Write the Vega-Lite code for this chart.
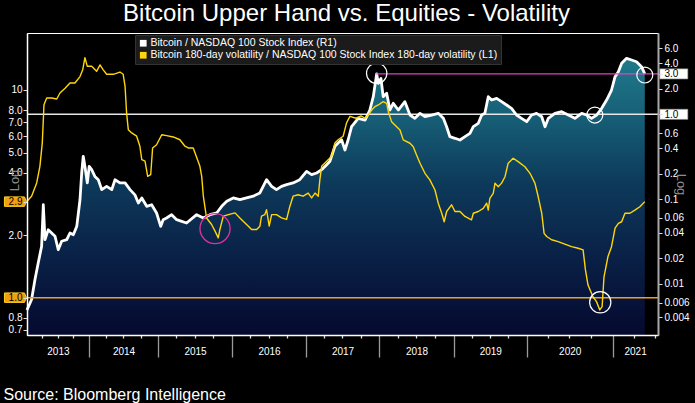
{
  "$schema": "https://vega.github.io/schema/vega-lite/v6.json",
  "width": 631,
  "height": 302,
  "autosize": {"type": "none"},
  "padding": {"left": 27, "top": 33, "right": 37, "bottom": 68},
  "background": "black",
  "title": {
    "text": "Bitcoin Upper Hand vs. Equities - Volatility",
    "color": "white",
    "font": "Liberation Sans",
    "fontSize": 24,
    "fontWeight": "normal",
    "anchor": "middle",
    "frame": "group",
    "baseline": "alphabetic",
    "offset": 10,
    "dx": 4,
    "dy": 22
  },
  "config": {
    "font": "Liberation Sans",
    "view": {"stroke": "white", "strokeWidth": 1},
    "axis": {
      "grid": false,
      "labelFont": "Liberation Sans",
      "labelFontSize": 10,
      "labelColor": "white",
      "titleFont": "Liberation Sans",
      "titleFontWeight": "normal"
    }
  },
  "datasets": {
    "btc": [
      {"date": "2013-01-01", "ratio": 0.0049},
      {"date": "2013-01-28", "ratio": 0.0065},
      {"date": "2013-02-17", "ratio": 0.0112},
      {"date": "2013-03-08", "ratio": 0.0176},
      {"date": "2013-03-28", "ratio": 0.0276},
      {"date": "2013-04-07", "ratio": 0.0856},
      {"date": "2013-04-17", "ratio": 0.0331},
      {"date": "2013-05-06", "ratio": 0.0434},
      {"date": "2013-05-26", "ratio": 0.0397},
      {"date": "2013-06-15", "ratio": 0.0363},
      {"date": "2013-07-04", "ratio": 0.0252},
      {"date": "2013-07-24", "ratio": 0.0317},
      {"date": "2013-08-23", "ratio": 0.0331},
      {"date": "2013-09-11", "ratio": 0.0397},
      {"date": "2013-10-01", "ratio": 0.0379},
      {"date": "2013-10-21", "ratio": 0.0476},
      {"date": "2013-11-09", "ratio": 0.0981},
      {"date": "2013-11-19", "ratio": 0.203},
      {"date": "2013-11-28", "ratio": 0.319},
      {"date": "2013-12-08", "ratio": 0.243},
      {"date": "2013-12-22", "ratio": 0.155},
      {"date": "2014-01-02", "ratio": 0.243},
      {"date": "2014-01-15", "ratio": 0.222},
      {"date": "2014-02-01", "ratio": 0.185},
      {"date": "2014-02-19", "ratio": 0.169},
      {"date": "2014-03-09", "ratio": 0.129},
      {"date": "2014-04-04", "ratio": 0.141},
      {"date": "2014-05-01", "ratio": 0.129},
      {"date": "2014-05-18", "ratio": 0.169},
      {"date": "2014-06-13", "ratio": 0.155},
      {"date": "2014-07-10", "ratio": 0.155},
      {"date": "2014-08-05", "ratio": 0.129},
      {"date": "2014-08-31", "ratio": 0.112},
      {"date": "2014-09-18", "ratio": 0.0897},
      {"date": "2014-10-06", "ratio": 0.103},
      {"date": "2014-11-01", "ratio": 0.082},
      {"date": "2014-11-27", "ratio": 0.0856},
      {"date": "2014-12-23", "ratio": 0.0684},
      {"date": "2015-01-13", "ratio": 0.0476},
      {"date": "2015-01-25", "ratio": 0.057},
      {"date": "2015-02-11", "ratio": 0.0597},
      {"date": "2015-03-08", "ratio": 0.0653},
      {"date": "2015-04-02", "ratio": 0.057},
      {"date": "2015-04-27", "ratio": 0.0545},
      {"date": "2015-05-21", "ratio": 0.0521},
      {"date": "2015-07-10", "ratio": 0.0653},
      {"date": "2015-08-12", "ratio": 0.0597},
      {"date": "2015-09-14", "ratio": 0.0653},
      {"date": "2015-10-17", "ratio": 0.0684},
      {"date": "2015-11-11", "ratio": 0.082},
      {"date": "2015-12-06", "ratio": 0.0939},
      {"date": "2016-01-07", "ratio": 0.103},
      {"date": "2016-02-09", "ratio": 0.0981},
      {"date": "2016-03-13", "ratio": 0.103},
      {"date": "2016-04-15", "ratio": 0.108},
      {"date": "2016-05-18", "ratio": 0.118},
      {"date": "2016-06-20", "ratio": 0.169},
      {"date": "2016-07-15", "ratio": 0.141},
      {"date": "2016-08-08", "ratio": 0.129},
      {"date": "2016-09-02", "ratio": 0.141},
      {"date": "2016-09-27", "ratio": 0.148},
      {"date": "2016-10-29", "ratio": 0.155},
      {"date": "2016-12-01", "ratio": 0.169},
      {"date": "2017-01-04", "ratio": 0.212},
      {"date": "2017-01-29", "ratio": 0.194},
      {"date": "2017-02-23", "ratio": 0.203},
      {"date": "2017-03-20", "ratio": 0.222},
      {"date": "2017-04-14", "ratio": 0.254},
      {"date": "2017-04-30", "ratio": 0.279},
      {"date": "2017-05-25", "ratio": 0.419},
      {"date": "2017-06-10", "ratio": 0.458},
      {"date": "2017-06-27", "ratio": 0.501},
      {"date": "2017-07-14", "ratio": 0.379},
      {"date": "2017-07-30", "ratio": 0.501},
      {"date": "2017-08-16", "ratio": 0.714},
      {"date": "2017-09-18", "ratio": 0.897},
      {"date": "2017-10-22", "ratio": 0.856},
      {"date": "2017-11-15", "ratio": 1.124},
      {"date": "2017-12-02", "ratio": 1.614},
      {"date": "2017-12-19", "ratio": 3.0},
      {"date": "2017-12-27", "ratio": 2.323},
      {"date": "2018-01-09", "ratio": 2.65},
      {"date": "2018-01-20", "ratio": 1.614},
      {"date": "2018-02-06", "ratio": 1.77},
      {"date": "2018-02-22", "ratio": 1.124},
      {"date": "2018-03-10", "ratio": 1.349},
      {"date": "2018-04-04", "ratio": 1.124},
      {"date": "2018-05-06", "ratio": 1.409},
      {"date": "2018-05-31", "ratio": 0.981},
      {"date": "2018-06-24", "ratio": 0.897},
      {"date": "2018-07-19", "ratio": 1.027},
      {"date": "2018-08-12", "ratio": 0.937},
      {"date": "2018-09-14", "ratio": 0.981},
      {"date": "2018-10-16", "ratio": 1.027},
      {"date": "2018-11-10", "ratio": 0.897},
      {"date": "2018-11-26", "ratio": 0.714},
      {"date": "2018-12-12", "ratio": 0.544},
      {"date": "2019-01-06", "ratio": 0.521},
      {"date": "2019-01-31", "ratio": 0.497},
      {"date": "2019-02-25", "ratio": 0.544},
      {"date": "2019-03-22", "ratio": 0.597},
      {"date": "2019-04-08", "ratio": 0.714},
      {"date": "2019-05-03", "ratio": 0.783},
      {"date": "2019-05-20", "ratio": 0.981},
      {"date": "2019-06-05", "ratio": 1.027},
      {"date": "2019-06-22", "ratio": 1.614},
      {"date": "2019-07-09", "ratio": 1.475},
      {"date": "2019-08-03", "ratio": 1.545},
      {"date": "2019-08-28", "ratio": 1.409},
      {"date": "2019-09-22", "ratio": 1.288},
      {"date": "2019-10-17", "ratio": 1.177},
      {"date": "2019-11-11", "ratio": 0.981},
      {"date": "2019-12-06", "ratio": 0.897},
      {"date": "2020-01-01", "ratio": 0.818},
      {"date": "2020-01-22", "ratio": 0.981},
      {"date": "2020-02-12", "ratio": 1.027},
      {"date": "2020-03-05", "ratio": 0.937},
      {"date": "2020-03-19", "ratio": 0.714},
      {"date": "2020-04-02", "ratio": 0.897},
      {"date": "2020-04-30", "ratio": 1.027},
      {"date": "2020-05-29", "ratio": 1.073},
      {"date": "2020-06-26", "ratio": 0.981},
      {"date": "2020-07-24", "ratio": 0.897},
      {"date": "2020-08-22", "ratio": 1.027},
      {"date": "2020-09-12", "ratio": 0.981},
      {"date": "2020-10-03", "ratio": 0.897},
      {"date": "2020-10-25", "ratio": 0.981},
      {"date": "2020-11-15", "ratio": 1.177},
      {"date": "2020-12-06", "ratio": 1.475},
      {"date": "2020-12-27", "ratio": 1.936},
      {"date": "2021-01-11", "ratio": 2.779},
      {"date": "2021-01-25", "ratio": 3.184},
      {"date": "2021-02-08", "ratio": 4.0},
      {"date": "2021-03-01", "ratio": 4.583},
      {"date": "2021-03-22", "ratio": 4.377},
      {"date": "2021-04-12", "ratio": 4.178},
      {"date": "2021-05-03", "ratio": 3.648},
      {"date": "2021-05-17", "ratio": 3.0}
    ],
    "vol": [
      {"date": "2013-01-01", "ratio": 2.91},
      {"date": "2013-01-28", "ratio": 3.08},
      {"date": "2013-02-27", "ratio": 3.57},
      {"date": "2013-03-18", "ratio": 4.29},
      {"date": "2013-04-01", "ratio": 5.56},
      {"date": "2013-04-11", "ratio": 8.5},
      {"date": "2013-04-27", "ratio": 9.15},
      {"date": "2013-05-26", "ratio": 9.15},
      {"date": "2013-06-25", "ratio": 9.05},
      {"date": "2013-07-14", "ratio": 9.67},
      {"date": "2013-08-13", "ratio": 10.2},
      {"date": "2013-09-11", "ratio": 10.8},
      {"date": "2013-10-10", "ratio": 10.8},
      {"date": "2013-11-09", "ratio": 11.6},
      {"date": "2013-11-25", "ratio": 12.5},
      {"date": "2013-12-08", "ratio": 14.3},
      {"date": "2013-12-22", "ratio": 13.0},
      {"date": "2014-01-15", "ratio": 13.0},
      {"date": "2014-02-10", "ratio": 12.3},
      {"date": "2014-02-28", "ratio": 13.2},
      {"date": "2014-03-17", "ratio": 12.5},
      {"date": "2014-04-04", "ratio": 11.9},
      {"date": "2014-05-09", "ratio": 11.9},
      {"date": "2014-06-13", "ratio": 12.2},
      {"date": "2014-06-30", "ratio": 11.9},
      {"date": "2014-07-10", "ratio": 10.4},
      {"date": "2014-07-18", "ratio": 7.75},
      {"date": "2014-07-27", "ratio": 6.44},
      {"date": "2014-08-14", "ratio": 6.21},
      {"date": "2014-09-09", "ratio": 5.99},
      {"date": "2014-09-26", "ratio": 5.36},
      {"date": "2014-10-06", "ratio": 4.62},
      {"date": "2014-10-23", "ratio": 4.54},
      {"date": "2014-11-06", "ratio": 3.84},
      {"date": "2014-11-22", "ratio": 3.91},
      {"date": "2014-12-02", "ratio": 5.26},
      {"date": "2014-12-23", "ratio": 5.45},
      {"date": "2015-01-18", "ratio": 6.09},
      {"date": "2015-02-11", "ratio": 6.03},
      {"date": "2015-03-16", "ratio": 5.94},
      {"date": "2015-04-18", "ratio": 5.76},
      {"date": "2015-05-13", "ratio": 5.36},
      {"date": "2015-05-29", "ratio": 5.26},
      {"date": "2015-06-23", "ratio": 5.26},
      {"date": "2015-07-02", "ratio": 4.97},
      {"date": "2015-07-26", "ratio": 4.29},
      {"date": "2015-08-04", "ratio": 3.84},
      {"date": "2015-08-12", "ratio": 3.08},
      {"date": "2015-08-28", "ratio": 2.42},
      {"date": "2015-09-22", "ratio": 2.25},
      {"date": "2015-10-09", "ratio": 2.09},
      {"date": "2015-10-25", "ratio": 1.94},
      {"date": "2015-11-02", "ratio": 2.13},
      {"date": "2015-11-19", "ratio": 2.47},
      {"date": "2015-12-14", "ratio": 2.51},
      {"date": "2016-01-16", "ratio": 2.56},
      {"date": "2016-02-09", "ratio": 2.42},
      {"date": "2016-03-13", "ratio": 2.25},
      {"date": "2016-04-07", "ratio": 2.13},
      {"date": "2016-05-02", "ratio": 2.13},
      {"date": "2016-05-18", "ratio": 2.21},
      {"date": "2016-05-26", "ratio": 2.47},
      {"date": "2016-06-11", "ratio": 2.51},
      {"date": "2016-06-20", "ratio": 2.65},
      {"date": "2016-07-03", "ratio": 2.21},
      {"date": "2016-07-15", "ratio": 2.51},
      {"date": "2016-08-08", "ratio": 2.51},
      {"date": "2016-09-02", "ratio": 2.42},
      {"date": "2016-09-27", "ratio": 2.38},
      {"date": "2016-10-13", "ratio": 2.75},
      {"date": "2016-10-29", "ratio": 3.08},
      {"date": "2016-11-23", "ratio": 3.13},
      {"date": "2016-12-18", "ratio": 3.08},
      {"date": "2017-01-12", "ratio": 3.19},
      {"date": "2017-01-29", "ratio": 3.02},
      {"date": "2017-02-15", "ratio": 3.19},
      {"date": "2017-03-03", "ratio": 3.08},
      {"date": "2017-03-11", "ratio": 3.7},
      {"date": "2017-03-20", "ratio": 4.29},
      {"date": "2017-04-14", "ratio": 4.54},
      {"date": "2017-05-09", "ratio": 4.8},
      {"date": "2017-05-25", "ratio": 5.56},
      {"date": "2017-06-10", "ratio": 5.76},
      {"date": "2017-07-05", "ratio": 5.99},
      {"date": "2017-07-22", "ratio": 6.94},
      {"date": "2017-08-08", "ratio": 7.47},
      {"date": "2017-09-07", "ratio": 7.31},
      {"date": "2017-10-02", "ratio": 7.5},
      {"date": "2017-10-22", "ratio": 7.31},
      {"date": "2017-11-07", "ratio": 7.58},
      {"date": "2017-11-24", "ratio": 8.01},
      {"date": "2017-12-10", "ratio": 8.31},
      {"date": "2017-12-27", "ratio": 8.47},
      {"date": "2018-01-20", "ratio": 8.79},
      {"date": "2018-02-06", "ratio": 8.63},
      {"date": "2018-02-14", "ratio": 7.86},
      {"date": "2018-03-02", "ratio": 7.04},
      {"date": "2018-03-18", "ratio": 6.79},
      {"date": "2018-04-12", "ratio": 6.42},
      {"date": "2018-04-28", "ratio": 5.75},
      {"date": "2018-05-31", "ratio": 5.54},
      {"date": "2018-06-16", "ratio": 5.33},
      {"date": "2018-07-02", "ratio": 4.86},
      {"date": "2018-07-19", "ratio": 4.44},
      {"date": "2018-08-12", "ratio": 3.97},
      {"date": "2018-09-05", "ratio": 3.69},
      {"date": "2018-09-30", "ratio": 3.3},
      {"date": "2018-10-16", "ratio": 2.85},
      {"date": "2018-11-02", "ratio": 2.55},
      {"date": "2018-11-14", "ratio": 2.32},
      {"date": "2018-11-26", "ratio": 2.6},
      {"date": "2018-12-20", "ratio": 2.8},
      {"date": "2019-01-06", "ratio": 2.6},
      {"date": "2019-01-31", "ratio": 2.6},
      {"date": "2019-02-25", "ratio": 2.46},
      {"date": "2019-03-30", "ratio": 2.37},
      {"date": "2019-04-08", "ratio": 2.55},
      {"date": "2019-05-03", "ratio": 2.6},
      {"date": "2019-05-28", "ratio": 2.69},
      {"date": "2019-06-14", "ratio": 2.85},
      {"date": "2019-06-22", "ratio": 2.64},
      {"date": "2019-06-30", "ratio": 3.01},
      {"date": "2019-07-17", "ratio": 3.18},
      {"date": "2019-07-26", "ratio": 3.56},
      {"date": "2019-08-11", "ratio": 3.42},
      {"date": "2019-08-28", "ratio": 3.56},
      {"date": "2019-09-14", "ratio": 3.82},
      {"date": "2019-09-30", "ratio": 4.44},
      {"date": "2019-10-25", "ratio": 4.69},
      {"date": "2019-11-19", "ratio": 4.52},
      {"date": "2019-12-23", "ratio": 4.27},
      {"date": "2020-01-15", "ratio": 3.97},
      {"date": "2020-02-05", "ratio": 3.56},
      {"date": "2020-02-19", "ratio": 3.06},
      {"date": "2020-03-05", "ratio": 2.55},
      {"date": "2020-03-15", "ratio": 2.04},
      {"date": "2020-03-26", "ratio": 1.97},
      {"date": "2020-04-16", "ratio": 1.9},
      {"date": "2020-05-14", "ratio": 1.86},
      {"date": "2020-06-11", "ratio": 1.81},
      {"date": "2020-07-10", "ratio": 1.76},
      {"date": "2020-08-07", "ratio": 1.73},
      {"date": "2020-08-28", "ratio": 1.7},
      {"date": "2020-09-07", "ratio": 1.36},
      {"date": "2020-09-18", "ratio": 1.15},
      {"date": "2020-10-09", "ratio": 1.01},
      {"date": "2020-10-24", "ratio": 0.957},
      {"date": "2020-11-07", "ratio": 0.873},
      {"date": "2020-11-17", "ratio": 0.905},
      {"date": "2020-11-25", "ratio": 1.26},
      {"date": "2020-12-12", "ratio": 1.58},
      {"date": "2020-12-27", "ratio": 1.76},
      {"date": "2021-01-11", "ratio": 2.16},
      {"date": "2021-01-25", "ratio": 2.28},
      {"date": "2021-02-08", "ratio": 2.32},
      {"date": "2021-02-22", "ratio": 2.55},
      {"date": "2021-03-15", "ratio": 2.55},
      {"date": "2021-04-05", "ratio": 2.64},
      {"date": "2021-04-26", "ratio": 2.74},
      {"date": "2021-05-17", "ratio": 2.9}
    ]
  },
  "layer": [
    {
      "layer": [
        {
          "data": {"name": "btc", "format": {"parse": {"date": "date"}}},
          "mark": {
            "type": "area",
            "color": {
              "gradient": "linear",
              "x1": 0, "y1": 0, "x2": 0, "y2": 1,
              "stops": [
                {"offset": 0, "color": "#207a8c"},
                {"offset": 0.2, "color": "#176078"},
                {"offset": 0.45, "color": "#0d3a5a"},
                {"offset": 0.7, "color": "#0a2248"},
                {"offset": 1, "color": "#05092f"}
              ]
            }
          },
          "encoding": {
            "x": {
              "field": "date",
              "type": "quantitative",
              "scale": {
                "nice": false,
                "zero": false,
                "domain": [1356998400000, 1388534400000, 1420070400000, 1451606400000, 1483228800000, 1514764800000, 1546300800000, 1577836800000, 1609459200000, 1626048000000],
                "range": [0, 62, 131.3, 205, 279, 352.3, 427, 499.7, 585.7, 631]
              },
              "axis": {
                "orient": "bottom",
                "zindex": 1,
                "tickCount": 100,
                "values": [
                  1364774400000, 1372636800000, 1380585600000,
                  1388534400000, 1396310400000, 1404172800000, 1412121600000,
                  1420070400000, 1427846400000, 1435708800000, 1443657600000,
                  1451606400000, 1459468800000, 1467331200000, 1475280000000,
                  1483228800000, 1491004800000, 1498867200000, 1506816000000,
                  1514764800000, 1522540800000, 1530403200000, 1538352000000,
                  1546300800000, 1554076800000, 1561939200000, 1569888000000,
                  1577836800000, 1585699200000, 1593561600000, 1601510400000,
                  1609459200000, 1617235200000, 1625097600000,
                  1372723200000, 1404259200000, 1435795200000, 1467417600000, 1498953600000,
                  1530489600000, 1562025600000, 1593648000000, 1617667200000
                ],
                "labelExpr": "utcdate(datum.value) == 1 ? '' : utcFormat(datum.value, '%Y')",
                "labelOverlap": false,
                "labelBound": false,
                "labelFlush": false,
                "labelPadding": 11,
                "labelBaseline": "top",
                "tickSize": {
                  "condition": [
                    {"test": "utcmonth(datum.value) == 0 && utcdate(datum.value) == 1", "value": 22},
                    {"test": "utcdate(datum.value) == 1", "value": 3}
                  ],
                  "value": 0
                },
                "tickColor": {
                  "condition": {"test": "utcmonth(datum.value) == 0 && utcdate(datum.value) == 1", "value": "#9a9a9a"},
                  "value": "#dddddd"
                },
                "tickWidth": 1.3,
                "domainColor": "white",
                "domainWidth": 1.5,
                "title": "Source: Bloomberg Intelligence",
                "titleColor": "white",
                "titleFontSize": 16,
                "titleAnchor": "start",
                "titleAlign": "left",
                "titleBaseline": "alphabetic",
                "titleX": -24,
                "titleY": 64
              }
            },
            "y": {
              "field": "ratio",
              "type": "quantitative",
              "scale": {"type": "log", "domain": [0.00248, 9.12], "nice": false},
              "axis": {
                "orient": "right",
                "zindex": 1,
                "values": [0.004, 0.006, 0.01, 0.02, 0.04, 0.06, 0.1, 0.2, 0.4, 0.6, 1, 2, 3, 4, 6],
                "labelExpr": "datum.value >= 1 ? format(datum.value, '.1f') : '' + datum.value",
                "labelColor": {
                  "condition": {"test": "datum.value == 3 || datum.value == 1", "value": "black"},
                  "value": "white"
                },
                "labelPadding": 2,
                "labelOverlap": false,
                "labelBound": false,
                "tickSize": 4,
                "tickColor": "#dddddd",
                "domainColor": "#a8a8a8",
                "domainWidth": 2,
                "title": "Log",
                "titleColor": "#8c8c8c",
                "titleFontSize": 13,
                "titleAngle": 90,
                "titleAlign": "center",
                "titleBaseline": "middle",
                "titleX": 22,
                "titleY": 151
              }
            },
            "y2": {"datum": 0.00248}
          }
        },
        {
          "data": {"values": [{"ratio": 1}]},
          "mark": {"type": "rule", "color": "#e6e6e6", "strokeWidth": 1.5},
          "encoding": {
            "y": {"field": "ratio", "type": "quantitative", "scale": {"type": "log"}}
          }
        },
        {
          "data": {"name": "btc", "format": {"parse": {"date": "date"}}},
          "mark": {"type": "line", "strokeWidth": 2.8, "strokeJoin": "round"},
          "encoding": {
            "x": {"field": "date", "type": "quantitative"},
            "y": {"field": "ratio", "type": "quantitative", "scale": {"type": "log"}},
            "color": {
              "datum": "Bitcoin / NASDAQ 100 Stock Index (R1)",
              "type": "nominal",
              "scale": {
                "domain": [
                  "Bitcoin / NASDAQ 100 Stock Index (R1)",
                  "Bitcoin 180-day volatility / NASDAQ 100 Stock Index 180-day volatility (L1)"
                ],
                "range": ["#ffffff", "#ffd60a"]
              },
              "legend": {
                "orient": "none",
                "legendX": 108,
                "legendY": 2,
                "title": null,
                "fillColor": "#1b1b1b",
                "strokeColor": "#333333",
                "padding": 3,
                "labelColor": "white",
                "labelFont": "Liberation Sans",
                "labelFontSize": 10.5,
                "labelLimit": 420,
                "labelOffset": 2,
                "rowPadding": 1,
                "symbolType": "square",
                "symbolSize": 45,
                "encode": {
                  "symbols": {
                    "update": {
                      "fill": {"scale": "color", "field": "value"},
                      "strokeWidth": {"value": 0}
                    }
                  }
                }
              }
            }
          }
        },
        {
          "data": {"values": [{"start": "2017-12-17", "end": "2021-07-12", "ratio": 3.0}], "format": {"parse": {"start": "date", "end": "date"}}},
          "mark": {"type": "rule", "color": "#e040c0", "strokeWidth": 1.2},
          "encoding": {
            "x": {"field": "start", "type": "quantitative"},
            "x2": {"field": "end"},
            "y": {"field": "ratio", "type": "quantitative", "scale": {"type": "log"}}
          }
        },
        {
          "data": {"values": [{"date": "2017-12-19", "ratio": 3.05}], "format": {"parse": {"date": "date"}}},
          "mark": {"type": "point", "shape": "circle", "filled": false, "color": "white", "strokeWidth": 1.2, "size": 415, "opacity": 1},
          "encoding": {
            "x": {"field": "date", "type": "quantitative"},
            "y": {"field": "ratio", "type": "quantitative", "scale": {"type": "log"}}
          }
        },
        {
          "data": {"values": [{"date": "2020-10-17", "ratio": 0.98}, {"date": "2021-05-17", "ratio": 2.91}], "format": {"parse": {"date": "date"}}},
          "mark": {"type": "point", "shape": "circle", "filled": false, "color": "white", "strokeWidth": 1.2, "size": 255, "opacity": 1},
          "encoding": {
            "x": {"field": "date", "type": "quantitative"},
            "y": {"field": "ratio", "type": "quantitative", "scale": {"type": "log"}}
          }
        },
        {
          "data": {"values": [{"ratio": 3.0}, {"ratio": 1.0}]},
          "mark": {
            "type": "point",
            "shape": "M-1,-0.36L1,-0.36L1,0.36L-1,0.36Z",
            "filled": true,
            "fill": "white",
            "stroke": "#9a9a9a",
            "strokeWidth": 0.6,
            "size": 784,
            "opacity": 1
          },
          "encoding": {
            "x": {"datum": 1631836800000, "type": "quantitative"},
            "y": {"field": "ratio", "type": "quantitative", "scale": {"type": "log"}}
          }
        }
      ]
    },
    {
      "layer": [
        {
          "data": {"values": [{"ratio": 1}]},
          "mark": {"type": "rule", "color": "#f0a020", "strokeWidth": 1.5},
          "encoding": {
            "y": {"field": "ratio", "type": "quantitative", "scale": {"type": "log"}}
          }
        },
        {
          "data": {"name": "vol", "format": {"parse": {"date": "date"}}},
          "mark": {"type": "line", "strokeWidth": 1.4, "strokeJoin": "round"},
          "encoding": {
            "x": {"field": "date", "type": "quantitative"},
            "y": {
              "field": "ratio",
              "type": "quantitative",
              "scale": {"type": "log", "domain": [0.661, 18.81], "nice": false},
              "axis": {
                "orient": "left",
                "zindex": 1,
                "values": [0.7, 0.8, 1, 2, 2.9, 4, 5, 6, 7, 8, 10],
                "labelExpr": "datum.value >= 10 ? '10' : format(datum.value, '.1f')",
                "labelColor": {
                  "condition": {"test": "datum.value == 2.9 || datum.value == 1", "value": "black"},
                  "value": "white"
                },
                "labelPadding": 1,
                "labelOverlap": false,
                "labelBound": false,
                "tickSize": 4,
                "tickColor": "#dddddd",
                "domainColor": "white",
                "domainWidth": 1.5,
                "title": "Log",
                "titleColor": "#8c8c8c",
                "titleFontSize": 13,
                "titleAngle": 270,
                "titleAlign": "center",
                "titleBaseline": "middle",
                "titleX": -13,
                "titleY": 147
              }
            },
            "color": {
              "datum": "Bitcoin 180-day volatility / NASDAQ 100 Stock Index 180-day volatility (L1)",
              "type": "nominal"
            }
          }
        },
        {
          "data": {"values": [{"date": "2015-10-09", "ratio": 2.15}], "format": {"parse": {"date": "date"}}},
          "mark": {"type": "point", "shape": "circle", "filled": false, "color": "#e2309c", "strokeWidth": 1.3, "size": 908, "opacity": 1},
          "encoding": {
            "x": {"field": "date", "type": "quantitative"},
            "y": {"field": "ratio", "type": "quantitative", "scale": {"type": "log"}}
          }
        },
        {
          "data": {"values": [{"date": "2020-11-09", "ratio": 0.95}], "format": {"parse": {"date": "date"}}},
          "mark": {"type": "point", "shape": "circle", "filled": false, "color": "white", "strokeWidth": 1.2, "size": 452, "opacity": 1},
          "encoding": {
            "x": {"field": "date", "type": "quantitative"},
            "y": {"field": "ratio", "type": "quantitative", "scale": {"type": "log"}}
          }
        },
        {
          "data": {"values": [{"ratio": 2.9}, {"ratio": 1.0}]},
          "mark": {
            "type": "point",
            "shape": "M-1,-0.43L0.82,-0.43L1,0L0.82,0.43L-1,0.43Z",
            "filled": true,
            "fill": "#f29d12",
            "stroke": "#ffd21f",
            "strokeWidth": 1,
            "size": 484,
            "opacity": 1
          },
          "encoding": {
            "x": {"datum": 1351123200000, "type": "quantitative"},
            "y": {"field": "ratio", "type": "quantitative", "scale": {"type": "log"}}
          }
        }
      ]
    }
  ],
  "resolve": {"scale": {"y": "independent"}}
}
